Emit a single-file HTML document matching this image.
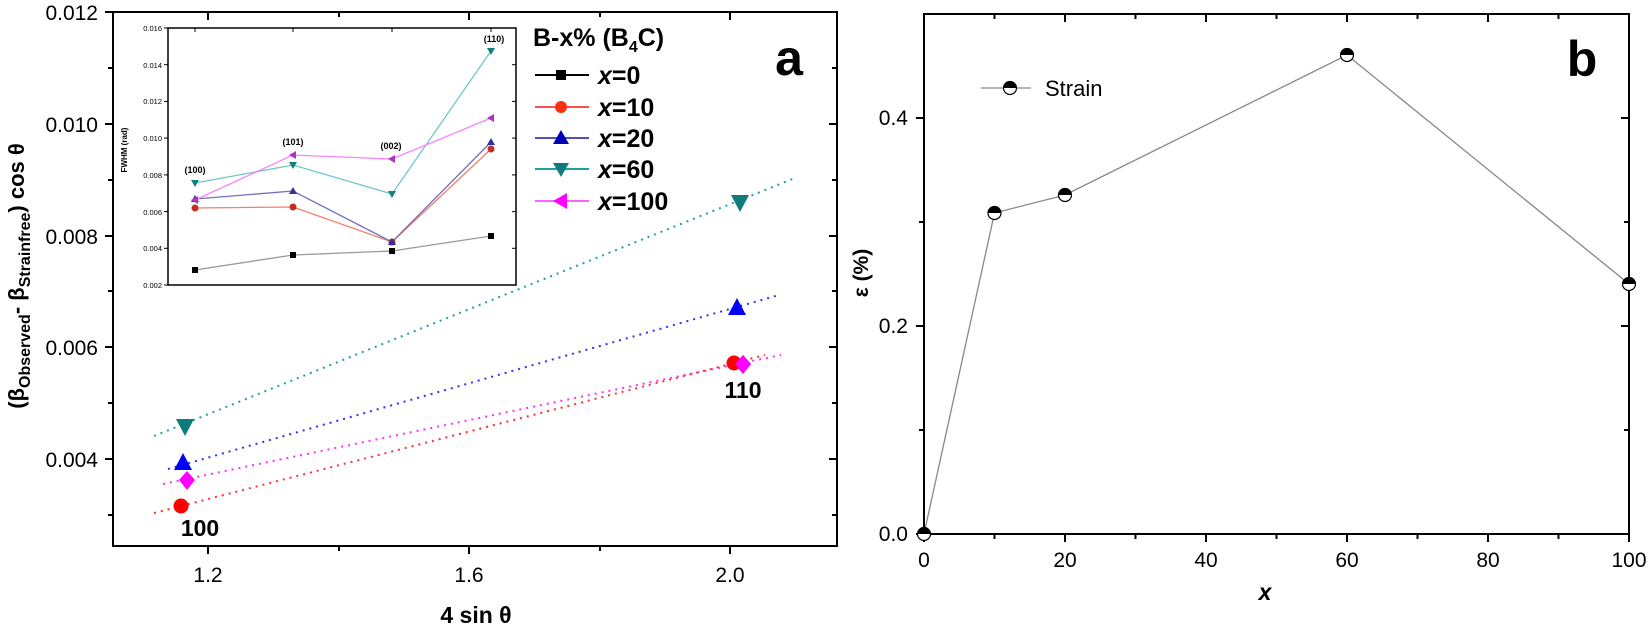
<!DOCTYPE html>
<html><head><meta charset="utf-8"><style>
html,body{margin:0;padding:0;background:#fff;}
svg{display:block;}
text{font-family:"Liberation Sans",Arial,sans-serif;}
</style></head><body>
<svg width="1650" height="629" viewBox="0 0 1650 629" xmlns="http://www.w3.org/2000/svg">
<!-- ============ PANEL A ============ -->
<rect x="113" y="12" width="724" height="534" fill="none" stroke="#000" stroke-width="2"/>
<g stroke="#000" stroke-width="2">
<!-- left ticks major -->
<line x1="105" y1="12" x2="113" y2="12"/><line x1="105" y1="124" x2="113" y2="124"/>
<line x1="105" y1="236" x2="113" y2="236"/><line x1="105" y1="347" x2="113" y2="347"/>
<line x1="105" y1="459" x2="113" y2="459"/>
<line x1="108" y1="68" x2="113" y2="68"/><line x1="108" y1="180" x2="113" y2="180"/>
<line x1="108" y1="291" x2="113" y2="291"/><line x1="108" y1="403" x2="113" y2="403"/>
<line x1="108" y1="515" x2="113" y2="515"/>
<!-- right ticks -->
<line x1="829" y1="124" x2="837" y2="124"/><line x1="829" y1="236" x2="837" y2="236"/>
<line x1="829" y1="347" x2="837" y2="347"/><line x1="829" y1="459" x2="837" y2="459"/>
<line x1="832" y1="68" x2="837" y2="68"/><line x1="832" y1="180" x2="837" y2="180"/>
<line x1="832" y1="291" x2="837" y2="291"/><line x1="832" y1="403" x2="837" y2="403"/>
<line x1="832" y1="515" x2="837" y2="515"/>
<!-- bottom ticks -->
<line x1="208" y1="546" x2="208" y2="554"/><line x1="469" y1="546" x2="469" y2="554"/>
<line x1="730" y1="546" x2="730" y2="554"/>
<line x1="339" y1="546" x2="339" y2="551"/><line x1="600" y1="546" x2="600" y2="551"/>
<!-- top ticks -->
<line x1="208" y1="12" x2="208" y2="20"/><line x1="469" y1="12" x2="469" y2="20"/>
<line x1="730" y1="12" x2="730" y2="20"/>
<line x1="339" y1="12" x2="339" y2="17"/><line x1="600" y1="12" x2="600" y2="17"/>
</g>
<g font-size="21" text-anchor="end" fill="#000">
<text x="98" y="20">0.012</text><text x="98" y="132">0.010</text>
<text x="98" y="244">0.008</text><text x="98" y="355">0.006</text>
<text x="98" y="467">0.004</text>
</g>
<g font-size="21" text-anchor="middle">
<text x="208" y="582">1.2</text><text x="469" y="582">1.6</text><text x="730" y="582">2.0</text>
</g>
<text x="476" y="623" font-size="23" font-weight="bold" text-anchor="middle">4 sin θ</text>
<text transform="translate(24,276) rotate(-90)" font-size="22" font-weight="bold" text-anchor="middle">(β<tspan font-size="16" dy="6">Observed</tspan><tspan dy="-6">- β</tspan><tspan font-size="16" dy="6">Strainfree</tspan><tspan dy="-6">) cos θ</tspan></text>

<!-- dotted fit lines -->
<g stroke-width="2" stroke-dasharray="2,5" fill="none">
<line x1="154" y1="436" x2="795" y2="178" stroke="#20a0a0"/>
<line x1="168" y1="469" x2="779" y2="295" stroke="#3030ff"/>
<line x1="163" y1="484" x2="781" y2="355" stroke="#ff30ff"/>
<line x1="154" y1="513" x2="765" y2="355" stroke="#ff3030"/>
</g>
<!-- markers -->
<g>
<polygon points="176,419 194,419 185,436" fill="#0f7b7b"/>
<polygon points="731,195 749,195 740,212" fill="#0f7b7b"/>
<polygon points="183,453 174,470 192,470" fill="#0000ff"/>
<polygon points="737,298 728,315 746,315" fill="#0000ff"/>
<polygon points="187,471 195,480 187,490 179,480" fill="#ff00ff"/>
<polygon points="743,355 751,364 743,374 735,364" fill="#ff00ff"/>
<circle cx="181" cy="506" r="7.5" fill="#ff0000"/>
<circle cx="734" cy="363" r="7.5" fill="#ff0000"/>
<polygon points="743,355 751,364 743,374 735,364" fill="#ff00ff"/>
</g>
<text x="200" y="536" font-size="23" font-weight="bold" text-anchor="middle">100</text>
<text x="743" y="398" font-size="23" font-weight="bold" text-anchor="middle">110</text>

<!-- legend -->
<text x="533" y="46" font-size="25" font-weight="bold">B-x% (B<tspan font-size="16" dy="6">4</tspan><tspan dy="-6">C)</tspan></text>
<g stroke-width="2">
<line x1="535" y1="75" x2="589" y2="75" stroke="#000"/>
<line x1="535" y1="107" x2="589" y2="107" stroke="#ff5050"/>
<line x1="535" y1="138" x2="589" y2="138" stroke="#5050c0"/>
<line x1="535" y1="169" x2="589" y2="169" stroke="#20a0a0"/>
<line x1="535" y1="201" x2="589" y2="201" stroke="#ff60ff"/>
</g>
<rect x="556" y="70" width="10" height="10" fill="#000"/>
<circle cx="561" cy="107" r="6" fill="#ff3010"/>
<polygon points="561,130 553,144 569,144" fill="#0000b0"/>
<polygon points="553,163 569,163 561,177" fill="#0f7b7b"/>
<polygon points="553,201 567,193 567,209" fill="#ff00ff"/>
<g font-size="25" font-weight="bold">
<text x="598" y="84"><tspan font-style="italic">x</tspan>=0</text>
<text x="598" y="116"><tspan font-style="italic">x</tspan>=10</text>
<text x="598" y="147"><tspan font-style="italic">x</tspan>=20</text>
<text x="598" y="178"><tspan font-style="italic">x</tspan>=60</text>
<text x="598" y="210"><tspan font-style="italic">x</tspan>=100</text>
</g>
<text x="789" y="75" font-size="50" font-weight="bold" text-anchor="middle">a</text>

<!-- inset -->
<rect x="168" y="28" width="348" height="257" fill="#fff" stroke="#000" stroke-width="1.5"/>
<g stroke="#000" stroke-width="1">
<line x1="164" y1="28" x2="168" y2="28"/><line x1="164" y1="64.7" x2="168" y2="64.7"/>
<line x1="164" y1="101.4" x2="168" y2="101.4"/><line x1="164" y1="138.1" x2="168" y2="138.1"/>
<line x1="164" y1="174.9" x2="168" y2="174.9"/><line x1="164" y1="211.6" x2="168" y2="211.6"/>
<line x1="164" y1="248.3" x2="168" y2="248.3"/><line x1="164" y1="285" x2="168" y2="285"/>
<line x1="512" y1="64.7" x2="516" y2="64.7"/><line x1="512" y1="101.4" x2="516" y2="101.4"/>
<line x1="512" y1="138.1" x2="516" y2="138.1"/><line x1="512" y1="174.9" x2="516" y2="174.9"/>
<line x1="512" y1="211.6" x2="516" y2="211.6"/><line x1="512" y1="248.3" x2="516" y2="248.3"/>
<line x1="195" y1="28" x2="195" y2="32"/><line x1="293" y1="28" x2="293" y2="32"/>
<line x1="392" y1="28" x2="392" y2="32"/><line x1="491" y1="28" x2="491" y2="32"/>
</g>
<g font-size="7.5" text-anchor="end">
<text x="162" y="31">0.016</text><text x="162" y="68">0.014</text><text x="162" y="104">0.012</text>
<text x="162" y="141">0.010</text><text x="162" y="178">0.008</text><text x="162" y="215">0.006</text>
<text x="162" y="251">0.004</text><text x="162" y="288">0.002</text>
</g>
<text transform="translate(127,150) rotate(-90)" font-size="8" font-weight="bold" text-anchor="middle">FWHM (rad)</text>
<g fill="none" stroke-width="1.3">
<polyline points="195,270 293,255 392,251 491,236" stroke="#999"/>
<polyline points="195,208 293,207 392,242 491,149" stroke="#f08070"/>
<polyline points="195,199 293,191 392,242 491,142" stroke="#7070c0"/>
<polyline points="195,183 293,165 392,194 491,51" stroke="#70c8c8"/>
<polyline points="195,200 293,155 392,159 491,118" stroke="#ff80ff"/>
</g>
<g fill="#000"><rect x="192" y="267" width="6" height="6"/><rect x="290" y="252" width="6" height="6"/><rect x="389" y="248" width="6" height="6"/><rect x="488" y="233" width="6" height="6"/></g>
<g fill="#c03020"><circle cx="195" cy="208" r="3.5"/><circle cx="293" cy="207" r="3.5"/><circle cx="392" cy="242" r="3.5"/><circle cx="491" cy="149" r="3.5"/></g>
<g fill="#3030a0"><polygon points="195,195 191,202 199,202"/><polygon points="293,187 289,194 297,194"/><polygon points="392,238 388,245 396,245"/><polygon points="491,138 487,145 495,145"/></g>
<g fill="#108080"><polygon points="191,180 199,180 195,187"/><polygon points="289,162 297,162 293,169"/><polygon points="388,191 396,191 392,198"/><polygon points="487,48 495,48 491,55"/></g>
<g fill="#b030c0"><polygon points="191,200 198,196 198,204"/><polygon points="289,155 296,151 296,159"/><polygon points="388,159 395,155 395,163"/><polygon points="487,118 494,114 494,122"/></g>
<g font-size="9" font-weight="bold" text-anchor="middle">
<text x="195" y="173">(100)</text><text x="293" y="145">(101)</text>
<text x="391" y="149">(002)</text><text x="494" y="42">(110)</text>
</g>

<!-- ============ PANEL B ============ -->
<rect x="924" y="14" width="705" height="520" fill="none" stroke="#000" stroke-width="2"/>
<g stroke="#000" stroke-width="2">
<line x1="916" y1="534" x2="924" y2="534"/><line x1="916" y1="326" x2="924" y2="326"/><line x1="916" y1="118" x2="924" y2="118"/>
<line x1="919" y1="430" x2="924" y2="430"/><line x1="919" y1="222" x2="924" y2="222"/>
<line x1="1621" y1="326" x2="1629" y2="326"/><line x1="1621" y1="118" x2="1629" y2="118"/>
<line x1="1624" y1="430" x2="1629" y2="430"/><line x1="1624" y1="222" x2="1629" y2="222"/>
<line x1="924" y1="534" x2="924" y2="542"/><line x1="1065" y1="534" x2="1065" y2="542"/>
<line x1="1206" y1="534" x2="1206" y2="542"/><line x1="1347" y1="534" x2="1347" y2="542"/>
<line x1="1488" y1="534" x2="1488" y2="542"/><line x1="1629" y1="534" x2="1629" y2="542"/>
<line x1="994.5" y1="534" x2="994.5" y2="539"/><line x1="1135.5" y1="534" x2="1135.5" y2="539"/>
<line x1="1276.5" y1="534" x2="1276.5" y2="539"/><line x1="1417.5" y1="534" x2="1417.5" y2="539"/>
<line x1="1558.5" y1="534" x2="1558.5" y2="539"/>
<line x1="1065" y1="14" x2="1065" y2="22"/><line x1="1206" y1="14" x2="1206" y2="22"/>
<line x1="1347" y1="14" x2="1347" y2="22"/><line x1="1488" y1="14" x2="1488" y2="22"/>
<line x1="994.5" y1="14" x2="994.5" y2="19"/><line x1="1135.5" y1="14" x2="1135.5" y2="19"/>
<line x1="1276.5" y1="14" x2="1276.5" y2="19"/><line x1="1417.5" y1="14" x2="1417.5" y2="19"/>
<line x1="1558.5" y1="14" x2="1558.5" y2="19"/>
</g>
<g font-size="21" text-anchor="end">
<text x="908" y="541">0.0</text><text x="908" y="333">0.2</text><text x="908" y="125">0.4</text>
</g>
<g font-size="21" text-anchor="middle">
<text x="924" y="567">0</text><text x="1065" y="567">20</text><text x="1206" y="567">40</text>
<text x="1347" y="567">60</text><text x="1488" y="567">80</text><text x="1629" y="567">100</text>
</g>
<text x="1265" y="600" font-size="23" font-weight="bold" font-style="italic" text-anchor="middle">x</text>
<text transform="translate(868,273) rotate(-90)" font-size="21" font-weight="bold" text-anchor="middle">ε (%)</text>
<polyline points="924,534 994.5,213 1065,195 1347,55 1629,284" fill="none" stroke="#888" stroke-width="1.3"/>
<defs>
<g id="hc"><circle r="6.5" fill="#fff" stroke="#000" stroke-width="1.2"/><path d="M-6.5,0 A6.5,6.5 0 0 1 6.5,0 Z" fill="#000"/></g>
</defs>
<use href="#hc" x="924" y="534"/><use href="#hc" x="994.5" y="213"/><use href="#hc" x="1065" y="195"/>
<use href="#hc" x="1347" y="55"/><use href="#hc" x="1629" y="284"/>
<line x1="981" y1="88" x2="1031" y2="88" stroke="#888" stroke-width="1.3"/>
<use href="#hc" x="1010" y="88"/>
<text x="1045" y="96" font-size="22">Strain</text>
<text x="1582" y="76" font-size="50" font-weight="bold" text-anchor="middle">b</text>
</svg>
</body></html>
